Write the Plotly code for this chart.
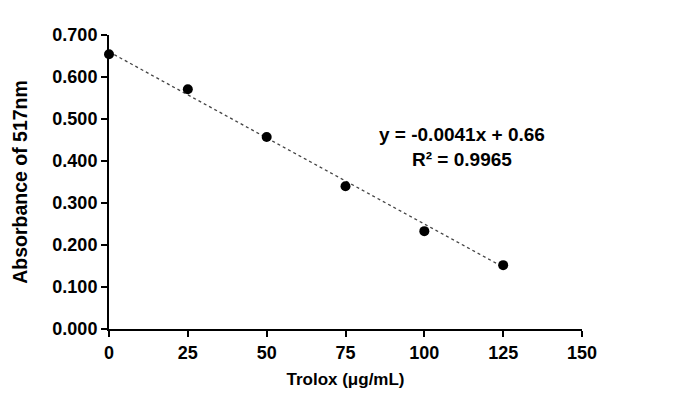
import plotly.graph_objects as go

trolox = [0, 25, 50, 75, 100, 125]
absorbance = [0.654, 0.571, 0.457, 0.340, 0.233, 0.152]
slope = -0.0041
intercept = 0.66
r2 = 0.9965
x_ticks = [0, 25, 50, 75, 100, 125, 150]
y_ticks = [0.0, 0.1, 0.2, 0.3, 0.4, 0.5, 0.6, 0.7]

font = "Liberation Sans, Arial, sans-serif"

fit_x = [trolox[0], trolox[-1]]
fit_y = [slope * v + intercept for v in fit_x]

fig = go.Figure()
fig.add_trace(go.Scatter(x=fit_x, y=fit_y, mode="lines",
                         line=dict(color="#444444", width=1.3, dash="dot"),
                         hoverinfo="skip", showlegend=False, cliponaxis=False))
fig.add_trace(go.Scatter(x=trolox, y=absorbance, mode="markers",
                         marker=dict(color="black", size=10),
                         showlegend=False, cliponaxis=False))

fig.add_annotation(x=0.746, y=0.619, xref="paper", yref="paper",
                   xanchor="center", yanchor="middle",
                   text=f"<b>y = {slope}x + {intercept}</b><br><b>R² = {r2}</b>",
                   showarrow=False, align="center",
                   font=dict(family=font, size=19, color="black"))

axis_common = dict(showline=True, linecolor="black", linewidth=2,
                   ticks="outside", tickcolor="black", tickwidth=2, ticklen=6,
                   showgrid=False, zeroline=False,
                   tickfont=dict(family=font, size=18, color="black"))

fig.update_layout(
    width=680, height=395,
    margin=dict(l=101, r=106, t=27, b=74),
    paper_bgcolor="white", plot_bgcolor="white",
    xaxis=dict(range=[0, 150], tickvals=x_ticks,
               ticktext=[f"<b>{v}</b>" for v in x_ticks],
               title=dict(text="<b>Trolox (μg/mL)</b>", standoff=12,
                          font=dict(family=font, size=17, color="black")),
               **axis_common),
    yaxis=dict(range=[0, 0.7], tickvals=y_ticks,
               ticktext=[f"<b>{v:.3f}</b>" for v in y_ticks],
               title=dict(text="<b>Absorbance of 517nm</b>", standoff=20,
                          font=dict(family=font, size=19.5, color="black")),
               **axis_common),
)

fig.write_html("out.html")
